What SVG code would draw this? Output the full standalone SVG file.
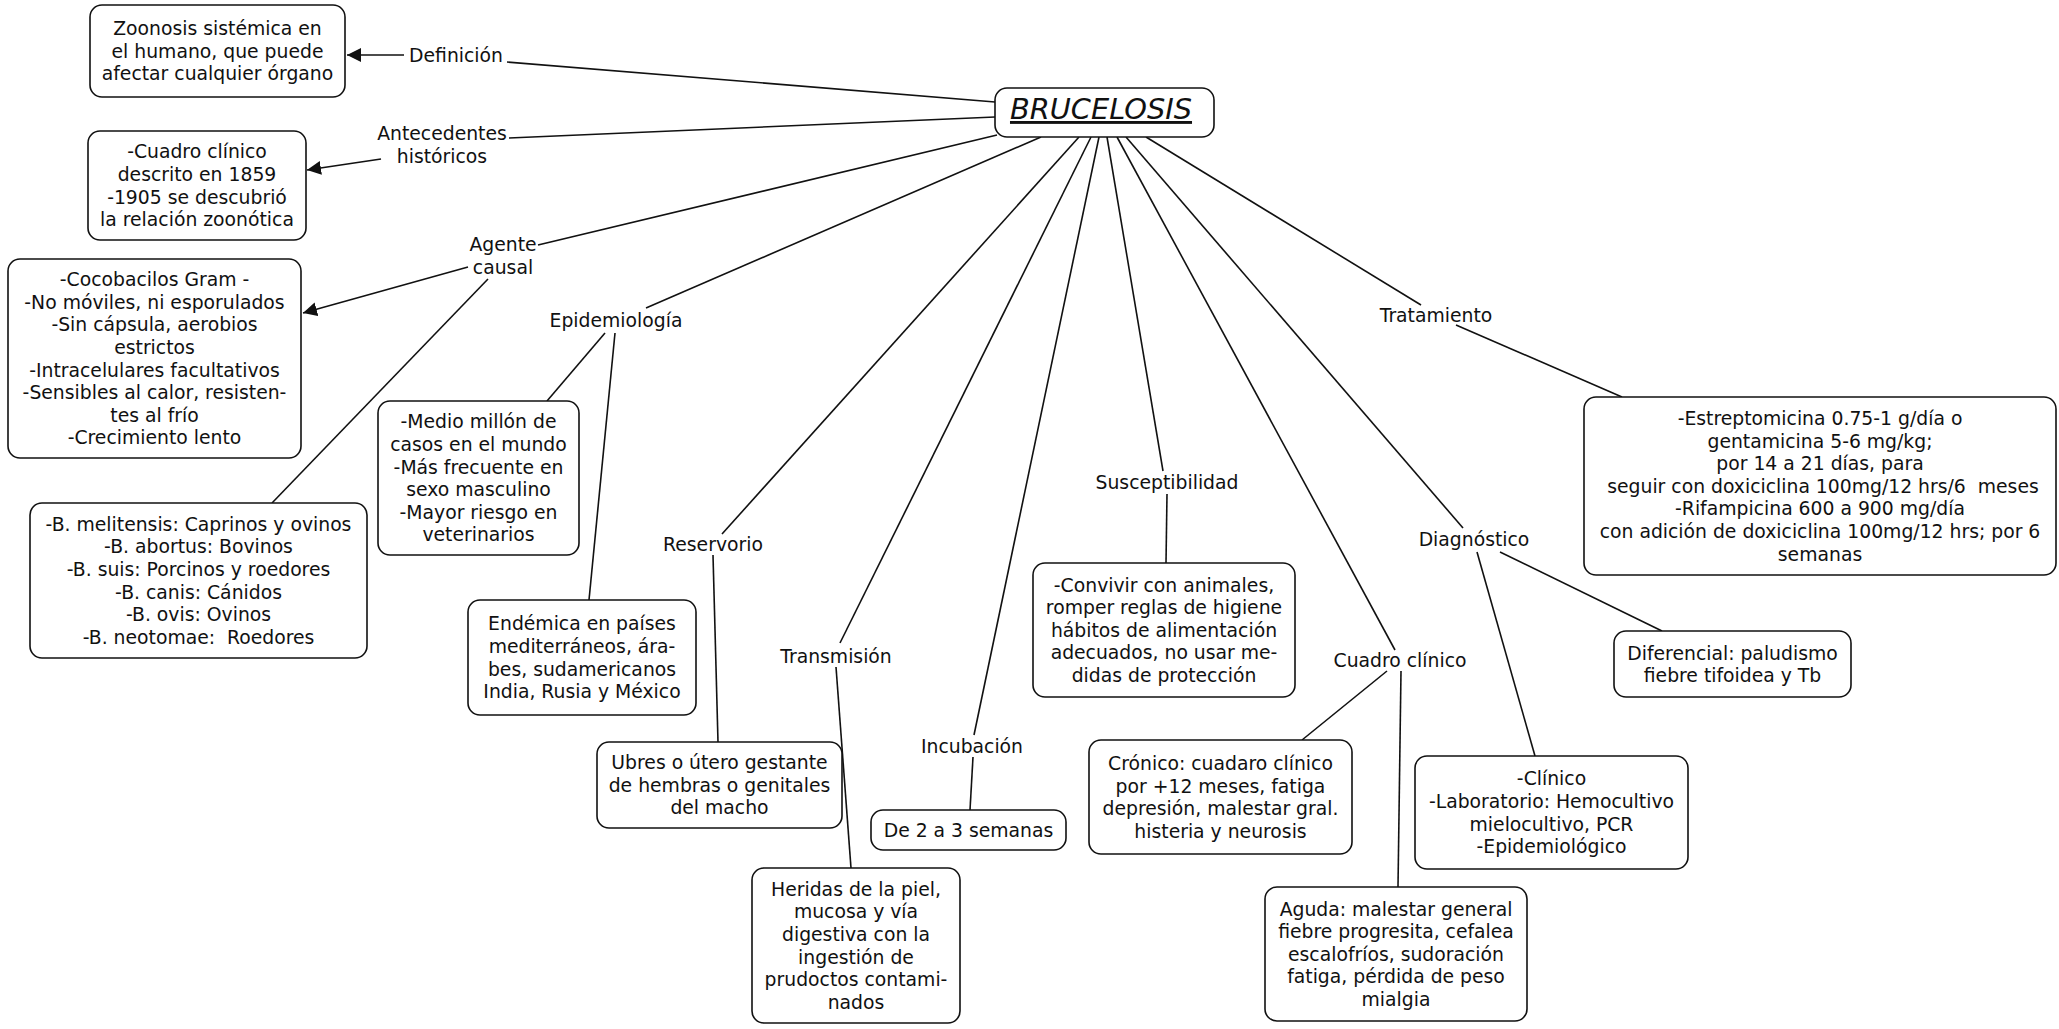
<svg xmlns="http://www.w3.org/2000/svg" width="2059" height="1029" viewBox="0 0 2059 1029">
<defs>
<style>
.box{fill:#fff;stroke:#111;stroke-width:1.6}
.t{font-family:"DejaVu Sans",Verdana,sans-serif;font-size:18.8px;fill:#111;text-anchor:middle}
.title{font-family:"DejaVu Sans",Verdana,sans-serif;font-size:28.8px;font-style:italic;text-decoration:underline;fill:#111;text-anchor:middle}
#connectors line{stroke:#111;stroke-width:1.6;fill:none}
#connectors line.arr{marker-end:url(#ah)}
</style>
<marker id="ah" markerUnits="userSpaceOnUse" markerWidth="15" markerHeight="15" refX="14" refY="7" orient="auto"><path d="M0,0 L14,7 L0,14 z" fill="#111"/></marker>
</defs>
<rect width="2059" height="1029" fill="#fff"/>
<g id="connectors">
<line x1="507" y1="62" x2="995" y2="102"/>
<line class="arr" x1="404" y1="55" x2="347" y2="55"/>
<line x1="509" y1="138" x2="995" y2="117"/>
<line class="arr" x1="381" y1="159" x2="307" y2="170"/>
<line x1="538" y1="245" x2="997" y2="135"/>
<line class="arr" x1="468" y1="267" x2="303" y2="313"/>
<line x1="488" y1="279" x2="272" y2="503"/>
<line x1="646" y1="308" x2="1041" y2="137"/>
<line x1="605" y1="333" x2="547" y2="401"/>
<line x1="615" y1="333" x2="589" y2="600"/>
<line x1="722" y1="534" x2="1079" y2="137"/>
<line x1="713" y1="555" x2="718" y2="742"/>
<line x1="840" y1="643" x2="1091" y2="137"/>
<line x1="836" y1="667" x2="851" y2="868"/>
<line x1="974" y1="735" x2="1099" y2="137"/>
<line x1="973" y1="757" x2="970" y2="810"/>
<line x1="1163" y1="471" x2="1107" y2="137"/>
<line x1="1167" y1="494" x2="1166" y2="563"/>
<line x1="1395" y1="650" x2="1117" y2="137"/>
<line x1="1387" y1="671" x2="1302" y2="740"/>
<line x1="1401" y1="671" x2="1398" y2="887"/>
<line x1="1463" y1="528" x2="1126" y2="137"/>
<line x1="1477" y1="552" x2="1535" y2="756"/>
<line x1="1500" y1="552" x2="1662" y2="631"/>
<line x1="1421" y1="305" x2="1146" y2="137"/>
<line x1="1456" y1="325" x2="1622" y2="397"/>
</g>
<g id="brucelosis"><rect class="box" x="995" y="88" width="219" height="49" rx="12"/><text class="title" x="1101" y="119">BRUCELOSIS</text></g>
<g id="definicion-box"><rect class="box" x="90" y="5" width="255" height="92" rx="12"/><text class="t"><tspan x="217.5" y="35.2">Zoonosis sistémica en</tspan><tspan x="217.5" y="57.8">el humano, que puede</tspan><tspan x="217.5" y="80.4">afectar cualquier órgano</tspan></text></g>
<g id="antecedentes-box"><rect class="box" x="88" y="131" width="218" height="109" rx="12"/><text class="t"><tspan x="197" y="158.4">-Cuadro clínico</tspan><tspan x="197" y="181">descrito en 1859</tspan><tspan x="197" y="203.6">-1905 se descubrió</tspan><tspan x="197" y="226.2">la relación zoonótica</tspan></text></g>
<g id="agente-box"><rect class="box" x="8" y="259" width="293" height="199" rx="12"/><text class="t"><tspan x="154.5" y="286.2">-Cocobacilos Gram -</tspan><tspan x="154.5" y="308.8">-No móviles, ni esporulados</tspan><tspan x="154.5" y="331.4">-Sin cápsula, aerobios</tspan><tspan x="154.5" y="354">estrictos</tspan><tspan x="154.5" y="376.6">-Intracelulares facultativos</tspan><tspan x="154.5" y="399.2">-Sensibles al calor, resisten-</tspan><tspan x="154.5" y="421.8">tes al frío</tspan><tspan x="154.5" y="444.4">-Crecimiento lento</tspan></text></g>
<g id="especies-box"><rect class="box" x="30" y="503" width="337" height="155" rx="12"/><text class="t" xml:space="preserve"><tspan x="198.5" y="530.8">-B. melitensis: Caprinos y ovinos</tspan><tspan x="198.5" y="553.4">-B. abortus: Bovinos</tspan><tspan x="198.5" y="576">-B. suis: Porcinos y roedores</tspan><tspan x="198.5" y="598.6">-B. canis: Cánidos</tspan><tspan x="198.5" y="621.2">-B. ovis: Ovinos</tspan><tspan x="198.5" y="643.8">-B. neotomae:  Roedores</tspan></text></g>
<g id="medio-box"><rect class="box" x="378" y="401" width="201" height="154" rx="12"/><text class="t"><tspan x="478.5" y="428.3">-Medio millón de</tspan><tspan x="478.5" y="450.9">casos en el mundo</tspan><tspan x="478.5" y="473.5">-Más frecuente en</tspan><tspan x="478.5" y="496.1">sexo masculino</tspan><tspan x="478.5" y="518.7">-Mayor riesgo en</tspan><tspan x="478.5" y="541.3">veterinarios</tspan></text></g>
<g id="endemica-box"><rect class="box" x="468" y="600" width="228" height="115" rx="12"/><text class="t"><tspan x="582" y="630.4">Endémica en países</tspan><tspan x="582" y="653">mediterráneos, ára-</tspan><tspan x="582" y="675.6">bes, sudamericanos</tspan><tspan x="582" y="698.2">India, Rusia y México</tspan></text></g>
<g id="ubres-box"><rect class="box" x="597" y="742" width="245" height="86" rx="12"/><text class="t"><tspan x="719.5" y="769.2">Ubres o útero gestante</tspan><tspan x="719.5" y="791.8">de hembras o genitales</tspan><tspan x="719.5" y="814.4">del macho</tspan></text></g>
<g id="heridas-box"><rect class="box" x="752" y="868" width="208" height="155" rx="12"/><text class="t"><tspan x="856" y="895.8">Heridas de la piel,</tspan><tspan x="856" y="918.4">mucosa y vía</tspan><tspan x="856" y="941">digestiva con la</tspan><tspan x="856" y="963.6">ingestión de</tspan><tspan x="856" y="986.2">prudoctos contami-</tspan><tspan x="856" y="1008.8">nados</tspan></text></g>
<g id="incubacion-box"><rect class="box" x="871" y="810" width="195" height="40" rx="12"/><text class="t" x="968.5" y="836.8">De 2 a 3 semanas</text></g>
<g id="susceptibilidad-box"><rect class="box" x="1033" y="563" width="262" height="134" rx="12"/><text class="t"><tspan x="1164" y="591.6">-Convivir con animales,</tspan><tspan x="1164" y="614.2">romper reglas de higiene</tspan><tspan x="1164" y="636.8">hábitos de alimentación</tspan><tspan x="1164" y="659.4">adecuados, no usar me-</tspan><tspan x="1164" y="682">didas de protección</tspan></text></g>
<g id="cronico-box"><rect class="box" x="1089" y="740" width="263" height="114" rx="12"/><text class="t"><tspan x="1220.5" y="770">Crónico: cuadaro clínico</tspan><tspan x="1220.5" y="792.6">por +12 meses, fatiga</tspan><tspan x="1220.5" y="815.2">depresión, malestar gral.</tspan><tspan x="1220.5" y="837.8">histeria y neurosis</tspan></text></g>
<g id="aguda-box"><rect class="box" x="1265" y="887" width="262" height="134" rx="12"/><text class="t"><tspan x="1396" y="915.6">Aguda: malestar general</tspan><tspan x="1396" y="938.2">fiebre progresita, cefalea</tspan><tspan x="1396" y="960.8">escalofríos, sudoración</tspan><tspan x="1396" y="983.4">fatiga, pérdida de peso</tspan><tspan x="1396" y="1006">mialgia</tspan></text></g>
<g id="clinico-box"><rect class="box" x="1415" y="756" width="273" height="113" rx="12"/><text class="t"><tspan x="1551.5" y="785.4">-Clínico</tspan><tspan x="1551.5" y="808">-Laboratorio: Hemocultivo</tspan><tspan x="1551.5" y="830.6">mielocultivo, PCR</tspan><tspan x="1551.5" y="853.2">-Epidemiológico</tspan></text></g>
<g id="diferencial-box"><rect class="box" x="1614" y="631" width="237" height="66" rx="12"/><text class="t"><tspan x="1732.5" y="659.5">Diferencial: paludismo</tspan><tspan x="1732.5" y="682.1">fiebre tifoidea y Tb</tspan></text></g>
<g id="tratamiento-box"><rect class="box" x="1584" y="397" width="472" height="178" rx="12"/><text class="t" xml:space="preserve"><tspan x="1820" y="425">-Estreptomicina 0.75-1 g/día o</tspan><tspan x="1820" y="447.6">gentamicina 5-6 mg/kg;</tspan><tspan x="1820" y="470.2">por 14 a 21 días, para</tspan><tspan x="1820" y="492.8"> seguir con doxiciclina 100mg/12 hrs/6  meses</tspan><tspan x="1820" y="515.4">-Rifampicina 600 a 900 mg/día</tspan><tspan x="1820" y="538">con adición de doxiciclina 100mg/12 hrs; por 6</tspan><tspan x="1820" y="560.6">semanas</tspan></text></g>
<g id="lbl-definicion"><text class="t" x="456" y="62">Definición</text></g>
<g id="lbl-antecedentes"><text class="t"><tspan x="442" y="140">Antecedentes</tspan><tspan x="442" y="163">históricos</tspan></text></g>
<g id="lbl-agente"><text class="t"><tspan x="503" y="251">Agente</tspan><tspan x="503" y="274">causal</tspan></text></g>
<g id="lbl-epidemiologia"><text class="t" x="616" y="327">Epidemiología</text></g>
<g id="lbl-reservorio"><text class="t" x="713" y="551">Reservorio</text></g>
<g id="lbl-transmision"><text class="t" x="836" y="663">Transmisión</text></g>
<g id="lbl-incubacion"><text class="t" x="972" y="753">Incubación</text></g>
<g id="lbl-susceptibilidad"><text class="t" x="1167" y="489">Susceptibilidad</text></g>
<g id="lbl-cuadro"><text class="t" x="1400" y="667">Cuadro clínico</text></g>
<g id="lbl-diagnostico"><text class="t" x="1474" y="546">Diagnóstico</text></g>
<g id="lbl-tratamiento"><text class="t" x="1436" y="322">Tratamiento</text></g>
</svg>
